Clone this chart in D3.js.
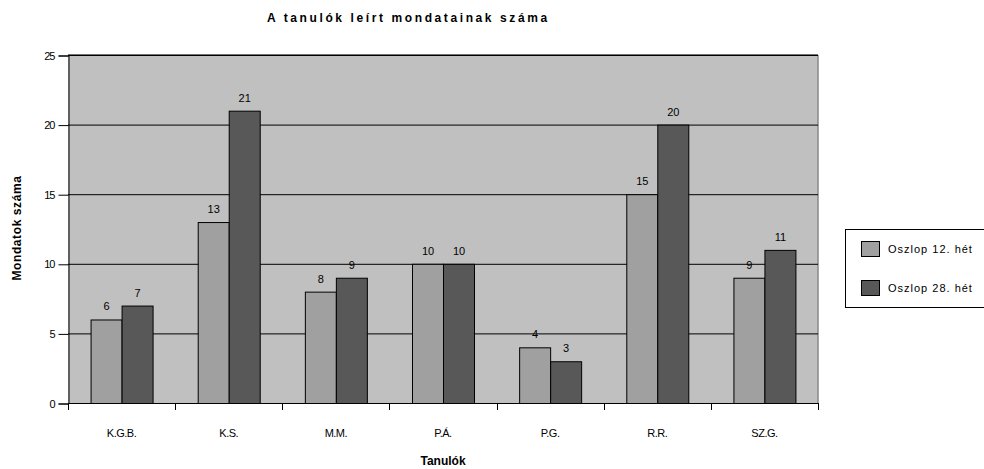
<!DOCTYPE html>
<html><head><meta charset="utf-8">
<script src="https://cdn.jsdelivr.net/npm/d3@7"></script>
<style>body{margin:0;background:#fff}svg{display:block;font-family:"Liberation Sans",Arial,sans-serif}</style>
</head><body><svg id="c" width="984" height="469"></svg>
<script>
const categories = ["K.G.B.","K.S.","M.M.","P.Á.","P.G.","R.R.","SZ.G."];
const seriesNames = ["Oszlop 12. hét","Oszlop 28. hét"];
const week12 = [6,13,8,10,4,15,9];
const week28 = [7,21,9,10,3,20,11];
const yTicks = [0,5,10,15,20,25];
const colors = ["#a0a0a0","#585858"];

const svg = d3.select("#c");
const L=68, R=818, T=55, B=403;
const x = d3.scaleBand().domain(categories).range([L,R]);
const y = d3.scaleLinear().domain([0,25]).range([B,T]);
const series=[week12,week28];

svg.append("rect").attr("x",L).attr("y",T).attr("width",R-L).attr("height",B-T).attr("fill","#c0c0c0");
svg.append("line").attr("x1",L).attr("x2",R).attr("y1",T).attr("y2",T).attr("stroke","#444").attr("stroke-width",1.5);
svg.append("line").attr("x1",R).attr("x2",R).attr("y1",T).attr("y2",B).attr("stroke","#888").attr("stroke-width",1.5);
yTicks.forEach(t=>{
  svg.append("line").attr("x1",L).attr("x2",R).attr("y1",y(t)+0.5).attr("y2",y(t)+0.5).attr("stroke","#000");
});

const bw=31;
series.forEach((s,si)=>{
  svg.append("g").selectAll("rect").data(s).join("rect")
    .attr("x",(d,i)=>x(categories[i])+x.bandwidth()/2-bw+si*bw+0.5)
    .attr("y",d=>y(d)+0.5).attr("width",bw).attr("height",d=>y(0)-y(d))
    .attr("fill",colors[si]).attr("stroke","#000").attr("stroke-width",1);
  svg.append("g").selectAll("text").data(s).join("text")
    .attr("x",(d,i)=>x(categories[i])+x.bandwidth()/2-bw+si*bw+bw/2+0.5)
    .attr("y",d=>y(d)-9).attr("text-anchor","middle").attr("font-size",11).text(d=>d);
});

const yAxis = d3.axisLeft(y).tickValues(yTicks).tickSize(10).tickPadding(4);
svg.append("g").attr("transform",`translate(${L+0.5},0.5)`).call(yAxis)
  .call(g=>{g.select(".domain").attr("stroke","#000");g.selectAll("text").attr("font-size",11).attr("font-family","Liberation Sans, Arial, sans-serif").attr("letter-spacing","-1px");});
const xAxis = d3.axisBottom(x).tickSize(0).tickPadding(26);
const gx = svg.append("g").attr("transform",`translate(0,${B+0.5})`).call(xAxis);
gx.select(".domain").attr("stroke","#000").attr("d",`M${L},0H${R}`);
gx.selectAll("text").attr("font-size",11).attr("font-family","Liberation Sans, Arial, sans-serif").attr("letter-spacing","-0.5px");
const bounds = [L].concat(categories.map(c=>x(c)+x.bandwidth()));
svg.append("g").selectAll("line").data(bounds).join("line")
  .attr("x1",d=>Math.round(d)+0.5).attr("x2",d=>Math.round(d)+0.5).attr("y1",B).attr("y2",B+7).attr("stroke","#000");

svg.append("text").attr("x",267).attr("y",22).attr("font-size",12).attr("font-weight","bold").attr("letter-spacing","2.6px").text("A tanulók leírt mondatainak száma");
svg.append("text").attr("x",443).attr("y",465).attr("text-anchor","middle").attr("font-size",12).attr("font-weight","bold").text("Tanulók");
svg.append("text").attr("transform","translate(21,228) rotate(-90)").attr("text-anchor","middle").attr("font-size",12).attr("font-weight","bold").attr("letter-spacing","0.6px").text("Mondatok száma");

const lg = svg.append("g");
lg.append("rect").attr("x",845.5).attr("y",229.5).attr("width",145).attr("height",78).attr("fill","#fff").attr("stroke","#000");
seriesNames.forEach((n,i)=>{
  lg.append("rect").attr("x",861.5).attr("y",241.5+i*39).attr("width",18).attr("height",15).attr("fill",colors[i]).attr("stroke","#000");
  lg.append("text").attr("x",888).attr("y",253+i*39).attr("font-size",11).attr("letter-spacing","1px").text(n);
});
</script></body></html>
